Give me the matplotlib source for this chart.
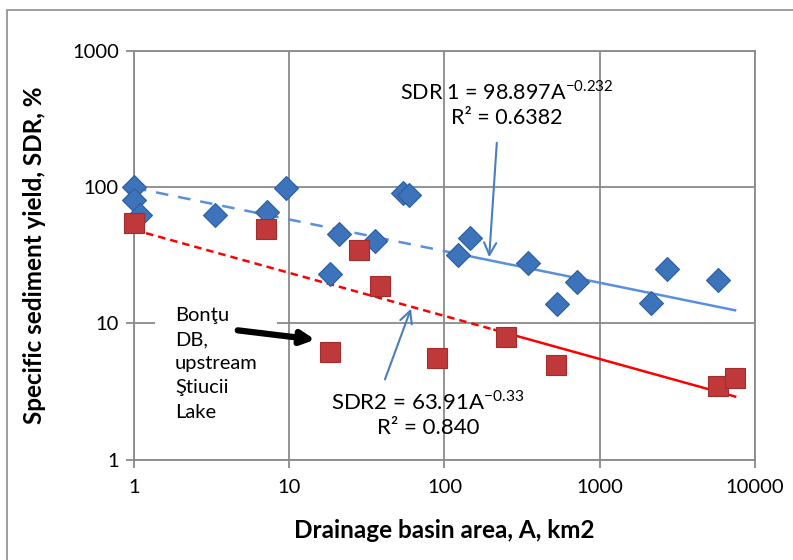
import numpy as np
import matplotlib.pyplot as plt
from matplotlib.ticker import FixedLocator, FixedFormatter, NullLocator
from matplotlib.patches import Rectangle

# SDR 1 series (blue diamonds)
area1 = [1, 1.0, 1.09, 3.3, 7.2, 9.5, 18.2, 20.8, 35.5, 54, 59.5, 123, 145, 347, 533, 716, 2140, 2720, 5780]
sdr1 = [100, 81, 63, 63, 66, 99, 23.2, 45.5, 40, 91, 88, 32, 42.5, 28, 14, 20.2, 14.2, 25.2, 21]

# SDR 2 series (red squares)
area2 = [1, 7.06, 18.2, 28, 38.2, 89, 250, 525, 5780, 7450]
sdr2 = [55, 49.5, 6.2, 34.7, 18.9, 5.6, 8.0, 5.0, 3.5, 4.0]

# trend lines: a * A^b, dashed part up to split, solid after
trend1 = dict(a=98.897, b=-0.232, split=145, end=7450)
trend2 = dict(a=48.7, b=-0.316, split=210, end=7450)

xticks = [1, 10, 100, 1000, 10000]
yticks = [1, 10, 100, 1000]

plt.rcParams['font.family'] = ['Lato', 'DejaVu Sans']

fig = plt.figure(figsize=(7.93, 5.6), dpi=100)
ax = fig.add_axes([0.169, 0.179, 0.783, 0.730])
fig.patches.append(Rectangle((0.009, -0.1), 1.2, 1.1 - 10 / 560, transform=fig.transFigure,
                             fill=False, edgecolor='#8c8c8c', lw=1.2))

ax.set_xscale('log')
ax.set_yscale('log')
ax.set_xlim(1, 10000)
ax.set_ylim(1, 1000)

gcol = '#8a8a8a'
ax.grid(True, color=gcol, lw=1.3)
ax.set_axisbelow(True)
for s in ax.spines.values():
    s.set_color(gcol)
    s.set_linewidth(1.3)
ax.xaxis.set_major_locator(FixedLocator(xticks))
ax.xaxis.set_major_formatter(FixedFormatter([str(v) for v in xticks]))
ax.yaxis.set_major_locator(FixedLocator(yticks))
ax.yaxis.set_major_formatter(FixedFormatter([str(v) for v in yticks]))
ax.xaxis.set_minor_locator(NullLocator())
ax.yaxis.set_minor_locator(NullLocator())
ax.tick_params(length=6, width=1.3, color=gcol, labelsize=14.5)
ax.tick_params(axis='x', pad=8)
ax.tick_params(axis='y', pad=5)

def trend(t, x0, x1):
    xs = np.logspace(np.log10(x0), np.log10(x1), 50)
    return xs, t['a'] * xs ** t['b']

x, y = trend(trend1, 1, trend1['split'])
ax.plot(x, y, color='#5a8fdb', lw=1.8, ls=(0, (5, 4)), zorder=2)
x, y = trend(trend1, trend1['split'], trend1['end'])
ax.plot(x, y, color='#5a8fdb', lw=1.8, zorder=2)
x, y = trend(trend2, 1, trend2['split'])
ax.plot(x, y, color='#ff0000', lw=1.8, ls=(0, (3, 2)), zorder=2)
x, y = trend(trend2, trend2['split'], trend2['end'])
ax.plot(x, y, color='#ff0000', lw=1.8, zorder=2)

ax.plot(area1, sdr1, 'D', ms=12, mfc='#3c73ba', mec='#2d5f9e', mew=0.8, zorder=3, clip_on=False)
ax.plot(area2, sdr2, 's', ms=15, mfc='#c0393a', mec='#a22c2c', mew=0.8, zorder=3, clip_on=False)

ax.set_xlabel('Drainage basin area, A, km2', fontsize=17.5, fontweight='bold', va='center')
ax.set_ylabel('Specific sediment yield, SDR, %', fontsize=17.5, fontweight='bold', va='center')
ax.xaxis.set_label_coords(0.5, -0.174)
ax.yaxis.set_label_coords(-0.16, 0.5)

acol = '#4a7ebb'

def px(xp, yp):
    # pixel position (from top-left) -> data coords
    return ax.transData.inverted().transform((xp, 560 - yp))

fig.canvas.draw()
tx, ty = px(507, 104)
ax.text(tx, ty, 'SDR 1 = 98.897A$^{\\mathregular{-0.232}}$\nR² = 0.6382', ha='center', va='center',
        fontsize=15.5, linespacing=1.3)
ax.annotate('', xy=px(489, 260), xytext=px(497, 140),
            arrowprops=dict(arrowstyle='->', color=acol, lw=1.5, mutation_scale=22))

tx, ty = px(428, 414)
ax.text(tx, ty, 'SDR2 = 63.91A$^{\\mathregular{-0.33}}$\nR² = 0.840', ha='center', va='center',
        fontsize=16, linespacing=1.25)
ax.annotate('', xy=px(412, 306), xytext=px(384, 382),
            arrowprops=dict(arrowstyle='->', color=acol, lw=1.5, mutation_scale=22))

tx, ty = px(175, 364)
ax.text(tx, ty, 'Bonţu\nDB,\nupstream\nŞtiucii\nLake', ha='left', va='center', fontsize=14.5,
        linespacing=1.5, bbox=dict(facecolor='white', edgecolor='none', pad=14), zorder=4)
ax.annotate('', xy=px(318, 340), xytext=px(235, 330),
            arrowprops=dict(arrowstyle='-|>', color='black', lw=4.5, mutation_scale=20), zorder=5)

fig.savefig('out.png', dpi=100)
